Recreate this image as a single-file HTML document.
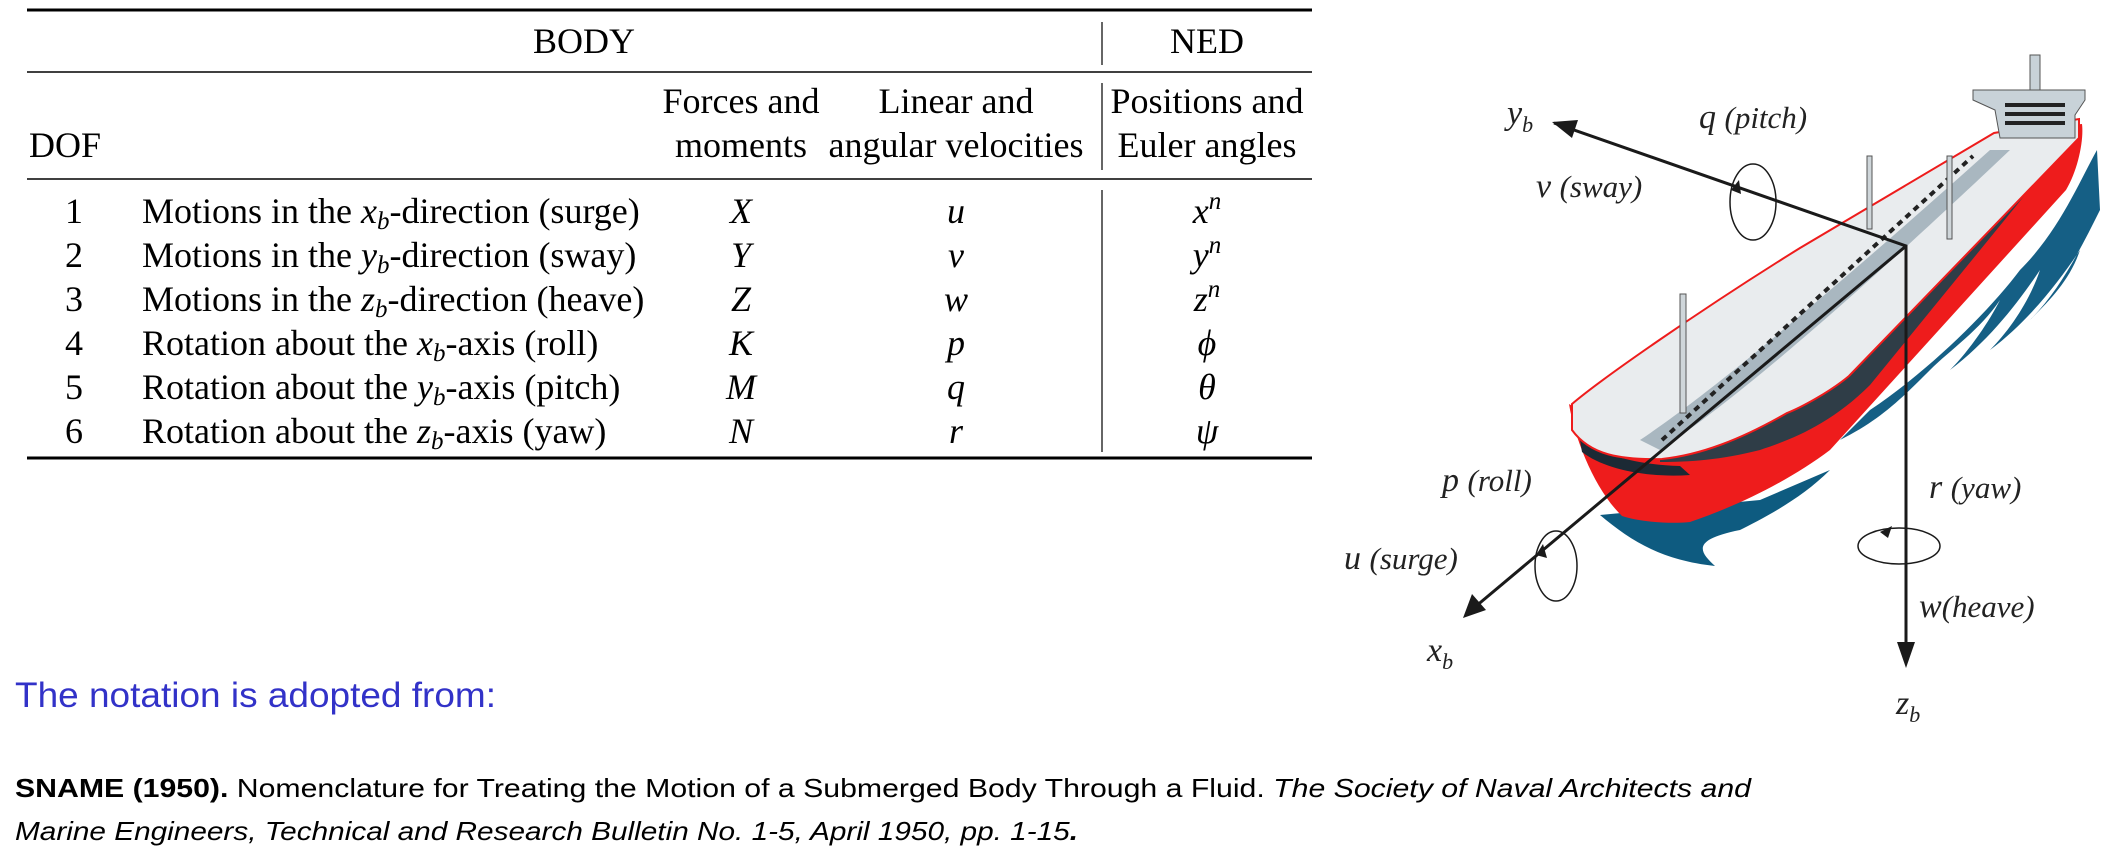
<!DOCTYPE html>
<html><head><meta charset="utf-8"><style>
html,body{margin:0;padding:0;background:#fff;}
svg{display:block;}
.s{font-family:"Liberation Serif",serif;font-size:36px;fill:#000;}
.i{font-style:italic;}
.lab{font-family:"Liberation Serif",serif;font-style:italic;fill:#222;}
</style></head><body>
<svg width="2112" height="856" viewBox="0 0 2112 856" xmlns="http://www.w3.org/2000/svg">
<line x1="27" y1="10" x2="1312" y2="10" stroke="#000" stroke-width="3"/>
<line x1="27" y1="72" x2="1312" y2="72" stroke="#000" stroke-width="1.6"/>
<line x1="27" y1="179" x2="1312" y2="179" stroke="#000" stroke-width="1.6"/>
<line x1="27" y1="458" x2="1312" y2="458" stroke="#000" stroke-width="3"/>
<line x1="1102" y1="22" x2="1102" y2="65" stroke="#000" stroke-width="1.2"/>
<line x1="1102" y1="83" x2="1102" y2="170" stroke="#000" stroke-width="1.2"/>
<line x1="1102" y1="190" x2="1102" y2="452" stroke="#000" stroke-width="1.2"/>
<g class="s">
<text x="584" y="53" text-anchor="middle">BODY</text>
<text x="1207" y="53" text-anchor="middle">NED</text>
<text x="29" y="157">DOF</text>
<text x="741" y="113" text-anchor="middle">Forces and</text>
<text x="741" y="157" text-anchor="middle">moments</text>
<text x="956" y="113" text-anchor="middle">Linear and</text>
<text x="956" y="157" text-anchor="middle">angular velocities</text>
<text x="1207" y="113" text-anchor="middle">Positions and</text>
<text x="1207" y="157" text-anchor="middle">Euler angles</text>

<text x="74" y="223" text-anchor="middle">1</text>
<text x="74" y="267" text-anchor="middle">2</text>
<text x="74" y="311" text-anchor="middle">3</text>
<text x="74" y="355" text-anchor="middle">4</text>
<text x="74" y="399" text-anchor="middle">5</text>
<text x="74" y="443" text-anchor="middle">6</text>

<text x="142" y="223">Motions in the <tspan class="i">x</tspan><tspan class="i" font-size="25" dy="6">b</tspan><tspan dy="-6">-direction (surge)</tspan></text>
<text x="142" y="267">Motions in the <tspan class="i">y</tspan><tspan class="i" font-size="25" dy="6">b</tspan><tspan dy="-6">-direction (sway)</tspan></text>
<text x="142" y="311">Motions in the <tspan class="i">z</tspan><tspan class="i" font-size="25" dy="6">b</tspan><tspan dy="-6">-direction (heave)</tspan></text>
<text x="142" y="355">Rotation about the <tspan class="i">x</tspan><tspan class="i" font-size="25" dy="6">b</tspan><tspan dy="-6">-axis (roll)</tspan></text>
<text x="142" y="399">Rotation about the <tspan class="i">y</tspan><tspan class="i" font-size="25" dy="6">b</tspan><tspan dy="-6">-axis (pitch)</tspan></text>
<text x="142" y="443">Rotation about the <tspan class="i">z</tspan><tspan class="i" font-size="25" dy="6">b</tspan><tspan dy="-6">-axis (yaw)</tspan></text>

<g class="i" text-anchor="middle">
<text x="741" y="223">X</text><text x="741" y="267">Y</text><text x="741" y="311">Z</text>
<text x="741" y="355">K</text><text x="741" y="399">M</text><text x="741" y="443">N</text>
<text x="956" y="223">u</text><text x="956" y="267">v</text><text x="956" y="311">w</text>
<text x="956" y="355">p</text><text x="956" y="399">q</text><text x="956" y="443">r</text>
<text x="1207" y="223">x<tspan font-size="25" dy="-14">n</tspan></text>
<text x="1207" y="267">y<tspan font-size="25" dy="-14">n</tspan></text>
<text x="1207" y="311">z<tspan font-size="25" dy="-14">n</tspan></text>
<text x="1207" y="355">ϕ</text><text x="1207" y="399">θ</text><text x="1207" y="443">ψ</text>
</g>
</g>

<text x="15" y="707" font-family="Liberation Sans,sans-serif" font-size="35" fill="#3232c8" textLength="481" lengthAdjust="spacingAndGlyphs">The notation is adopted from:</text>
<text x="15" y="797" font-family="Liberation Sans,sans-serif" font-size="26" fill="#000" textLength="1736" lengthAdjust="spacingAndGlyphs"><tspan font-weight="bold">SNAME (1950).</tspan> Nomenclature for Treating the Motion of a Submerged Body Through a Fluid. <tspan font-style="italic">The Society of Naval Architects and</tspan></text>
<text x="15" y="840" font-family="Liberation Sans,sans-serif" font-size="26" font-style="italic" fill="#000" textLength="1063" lengthAdjust="spacingAndGlyphs">Marine Engineers, Technical and Research Bulletin No. 1-5, April 1950, pp. 1-15<tspan font-weight="bold">.</tspan></text>

<g>
<path d="M1600,515 C1630,540 1660,560 1715,566 C1700,552 1690,540 1740,530 C1760,520 1800,500 1830,470 L1760,500 Z" fill="#0e5b80"/>
<path d="M1840,440 C1880,420 1900,400 1930,370 C1950,350 1980,330 2000,300 C1990,320 1970,350 1950,370 C1990,340 2020,300 2040,270 C2030,300 2010,330 1990,350 C2030,320 2060,280 2080,250 C2070,280 2050,300 2030,320 C2060,290 2080,250 2100,210 L2097,150 C2080,180 2060,230 2020,270 C1990,310 1930,370 1870,410 Z" fill="#155f85"/>
<path d="M1569,404 C1575,440 1595,490 1622,516 C1640,522 1670,524 1690,522 C1740,505 1790,480 1830,450 L2066,190 C2078,170 2084,140 2082,124 L2070,125 L1845,378 C1800,410 1730,445 1660,458 Z" fill="#ee1c1c"/>
<path d="M1660,458 C1730,445 1800,410 1845,378 L2070,125 L2078,130 L1870,385 C1830,425 1790,440 1760,450 C1720,460 1690,462 1660,462 Z" fill="#2f3d47"/>
<path d="M1580,440 C1600,455 1640,465 1680,466 L1690,475 C1650,478 1605,470 1582,452 Z" fill="#1c2a35"/>
<path d="M1572,404 C1600,380 1700,310 1800,248 L1994,133 L2079,119 L2079,138 L1849,376 C1830,392 1800,408 1787,413 C1740,440 1700,455 1662,459 C1620,460 1590,455 1572,430 Z" fill="#e9ecee" stroke="#ee1c1c" stroke-width="2"/>
<path d="M1640,440 C1700,400 1800,320 1990,150 L2010,150 C1820,330 1720,410 1660,450 Z" fill="#a9b7c0"/>
<line x1="1662" y1="440" x2="1973" y2="156" stroke="#222" stroke-width="4" stroke-dasharray="6,5"/>
<rect x="1680" y="294" width="6" height="119" fill="#cfd6da" stroke="#555" stroke-width="1"/>
<rect x="1867" y="156" width="5" height="73" fill="#cfd6da" stroke="#555" stroke-width="1"/>
<rect x="1947" y="156" width="5" height="83" fill="#cfd6da" stroke="#555" stroke-width="1"/>
<path d="M1973,90 L2085,90 L2085,100 L2075,115 L2075,138 L2000,138 L1995,110 L1973,100 Z" fill="#c8d2d8" stroke="#555" stroke-width="1"/>
<rect x="2005" y="103" width="60" height="4" fill="#222"/><rect x="2005" y="112" width="60" height="4" fill="#222"/><rect x="2005" y="121" width="60" height="4" fill="#222"/>
<rect x="2030" y="55" width="10" height="35" fill="#c8d2d8" stroke="#555"/>
</g>

<g stroke="#1a1a1a" stroke-width="3" fill="none">
<polyline points="1554,123 1906,246 1906,650"/>
<line x1="1906" y1="246" x2="1475" y2="607"/>
<ellipse cx="1753" cy="202" rx="23" ry="38" stroke-width="1.5"/>
<ellipse cx="1556" cy="566" rx="21" ry="35" stroke-width="1.5"/>
<ellipse cx="1899" cy="546" rx="41" ry="18" stroke-width="1.5"/>
</g>
<g fill="#1a1a1a">
<polygon points="1552,122 1578,120 1572,138"/>
<polygon points="1906,668 1897,642 1915,642"/>
<polygon points="1463,618 1472,594 1486,610"/>
<polygon points="1731,190 1739,180 1741,194"/>
<polygon points="1536,555 1543,544 1547,558"/>
<polygon points="1880,532 1892,526 1888,538"/>
</g>
<g class="lab" font-size="34">
<text x="1507" y="124">y<tspan font-size="22" dy="8">b</tspan></text>
<text x="1699" y="128">q <tspan font-size="31">(pitch)</tspan></text>
<text x="1536" y="197">v  <tspan font-size="31">(sway)</tspan></text>
<text x="1442" y="491">p <tspan font-size="31">(roll)</tspan></text>
<text x="1344" y="569">u  <tspan font-size="31">(surge)</tspan></text>
<text x="1427" y="661">x<tspan font-size="22" dy="8">b</tspan></text>
<text x="1929" y="498">r <tspan font-size="31">(yaw)</tspan></text>
<text x="1919" y="617">w<tspan font-size="31">(heave)</tspan></text>
<text x="1896" y="714">z<tspan font-size="22" dy="8">b</tspan></text>
</g>
</svg>
</body></html>
